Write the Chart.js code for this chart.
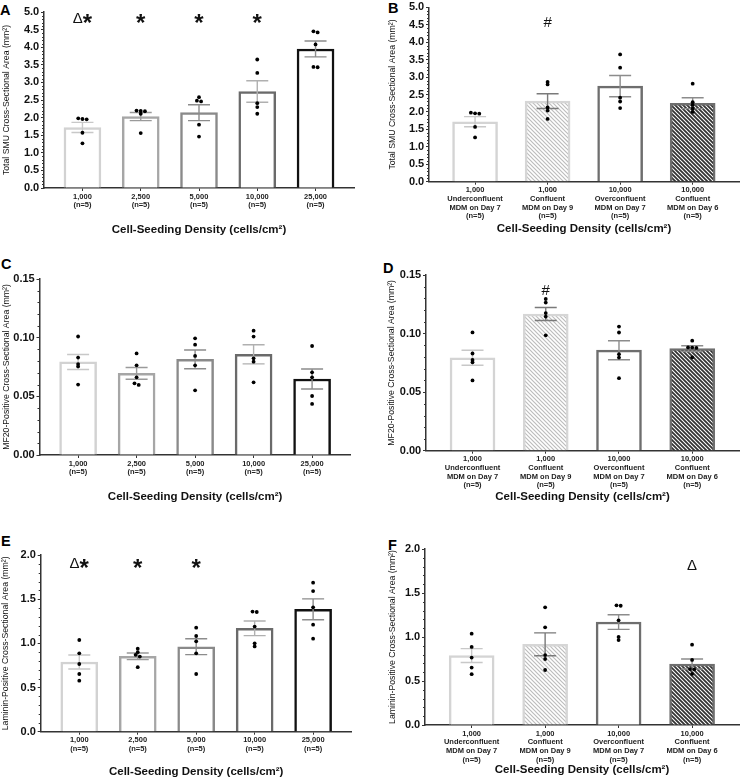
<!DOCTYPE html>
<html>
<head>
<meta charset="utf-8">
<script src="https://cdn.jsdelivr.net/npm/chart.js@4.4.1/dist/chart.umd.min.js"></script>
<style>
  body { margin: 0; background: #fff; width: 741px; height: 778px; position: relative; overflow: hidden; }
  canvas { position: absolute; }
  .tag { position: absolute; font: bold 14.5px 'Liberation Sans', Arial, sans-serif; line-height: 1; color: #000; }
</style>
</head>
<body>
<div class="tag" style="left:0px;top:3px">A</div>
<div class="tag" style="left:388px;top:1px">B</div>
<div class="tag" style="left:1px;top:257px">C</div>
<div class="tag" style="left:383px;top:261px">D</div>
<div class="tag" style="left:1px;top:534px">E</div>
<div class="tag" style="left:388px;top:538px">F</div>
<canvas id="chartA"></canvas>
<canvas id="chartB"></canvas>
<canvas id="chartC"></canvas>
<canvas id="chartD"></canvas>
<canvas id="chartE"></canvas>
<canvas id="chartF"></canvas>
<script>
const FONT = "'Liberation Sans', Arial, sans-serif";

// x categories
const densityLabels = [['1,000', '(n=5)'], ['2,500', '(n=5)'], ['5,000', '(n=5)'], ['10,000', '(n=5)'], ['25,000', '(n=5)']];
const mdmLabels = [
  ['1,000', 'Underconfluent', 'MDM on Day 7', '(n=5)'],
  ['1,000', 'Confluent', 'MDM on Day 9', '(n=5)'],
  ['10,000', 'Overconfluent', 'MDM on Day 7', '(n=5)'],
  ['10,000', 'Confluent', 'MDM on Day 6', '(n=5)']
];

// A - total SMU area vs density
const smuMean = [1.72, 2.03, 2.14, 2.74, 3.95];
const smuSem = [0.145, 0.115, 0.225, 0.305, 0.225];
const smuPts = [[1.98, 1.96, 1.95, 1.57, 1.27], [2.20, 2.19, 2.18, 2.11, 1.56], [2.58, 2.48, 2.46, 1.80, 1.46], [3.65, 3.27, 2.41, 2.30, 2.11], [4.45, 4.42, 4.08, 3.44, 3.43]];
const smuMarks = ['Δ*', '*', '*', '*', ''];

// B - total SMU area vs MDM confluence
const smuMdmMean = [1.72, 2.31, 2.74, 2.25];
const smuMdmSem = [0.145, 0.21, 0.305, 0.155];
const smuMdmPts = [[1.98, 1.96, 1.95, 1.57, 1.27], [2.86, 2.79, 2.13, 2.04, 1.80], [3.65, 3.27, 2.41, 2.30, 2.11], [2.81, 2.28, 2.20, 2.10, 2.00]];
const smuMdmMarks = ['', '#', '', ''];

// C - MF20 area vs density
const mf20Mean = [0.0793, 0.0696, 0.0815, 0.0858, 0.0648];
const mf20Sem = [0.0064, 0.0050, 0.0080, 0.0081, 0.0085];
const mf20Pts = [[0.101, 0.083, 0.0775, 0.0755, 0.060], [0.0866, 0.0764, 0.0662, 0.0611, 0.0597], [0.0994, 0.094, 0.0844, 0.0764, 0.0551], [0.106, 0.1009, 0.0824, 0.0795, 0.0619], [0.0929, 0.0705, 0.0662, 0.0503, 0.0435]];

// D - MF20 area vs MDM confluence
const mf20MdmMean = [0.0793, 0.1167, 0.0858, 0.0871];
const mf20MdmSem = [0.0064, 0.0056, 0.0081, 0.0025];
const mf20MdmPts = [[0.101, 0.083, 0.0775, 0.0755, 0.060], [0.1295, 0.1265, 0.1175, 0.1145, 0.0985], [0.106, 0.1009, 0.0824, 0.0795, 0.0619], [0.0939, 0.0882, 0.0880, 0.0877, 0.0797]];
const mf20MdmMarks = ['', '#', '', ''];

// E - laminin area vs density
const lamMean = [0.789, 0.853, 0.962, 1.17, 1.385];
const lamSem = [0.079, 0.037, 0.09, 0.083, 0.118];
const lamPts = [[1.038, 0.887, 0.766, 0.653, 0.577], [0.94, 0.90, 0.87, 0.85, 0.73], [1.177, 1.083, 1.023, 0.887, 0.653], [1.36, 1.355, 1.19, 1.00, 0.965], [1.687, 1.592, 1.408, 1.211, 1.053]];
const lamMarks = ['Δ*', '*', '*', '', ''];

// F - laminin area vs MDM confluence
const lamMdmMean = [0.789, 0.917, 1.17, 0.693];
const lamMdmSem = [0.079, 0.13, 0.083, 0.057];
const lamMdmPts = [[1.038, 0.887, 0.766, 0.653, 0.577], [1.337, 1.110, 0.795, 0.750, 0.625], [1.36, 1.355, 1.19, 1.00, 0.965], [0.913, 0.739, 0.636, 0.632, 0.58]];
const lamMdmMarks = ['', '', '', 'Δ'];

function hatch(bg, fg, lw) {
  const c = document.createElement('canvas');
  c.width = c.height = 4;
  const g = c.getContext('2d');
  g.fillStyle = bg;
  g.fillRect(0, 0, 4, 4);
  g.strokeStyle = fg;
  g.lineWidth = lw;
  g.beginPath();
  g.moveTo(-1, -1); g.lineTo(5, 5);
  g.moveTo(-1, 3); g.lineTo(1, 5);
  g.moveTo(3, -1); g.lineTo(5, 1);
  g.stroke();
  return g.createPattern(c, 'repeat');
}
const hatchLight = hatch('#fff', '#bdbdbd', 1.2);
const hatchDark = hatch('#fff', '#333', 1.8);

const leftStyle = {
  fills: ['#fff', '#fff', '#fff', '#fff', '#fff'],
  borders: ['#d2d2d2', '#a6a6a6', '#8a8a8a', '#6a6a6a', '#111'],
  errs: ['#c8c8c8', '#9a9a9a', '#8c8c8c', '#b0b0b0', '#8c8c8c'],
  xRange: [-0.66, 4.66], barW: 37
};
const rightStyle = {
  fills: ['#fff', hatchLight, '#fff', hatchDark],
  borders: ['#d4d4d4', '#d6d6d6', '#6e6e6e', '#6e6e6e'],
  errs: ['#c8c8c8', '#7a7a7a', '#8c8c8c', '#8c8c8c'],
  xRange: [-0.635, 3.64], barW: 45
};

const smuTitle = 'Total SMU Cross-Sectional Area (mm²)';
const mf20Title = 'MF20-Positive Cross-Sectional Area (mm²)';
const lamTitle = 'Laminin-Positive Cross-Sectional Area (mm²)';

const panels = [
  { id: 'chartA', labels: densityLabels, mean: smuMean, sem: smuSem, pts: smuPts, marks: smuMarks, markY: 4.83,
    yTitle: smuTitle, yMax: 5, major: 0.5, minor: 0.1, dec: 1, style: leftStyle,
    box: [0, 0, 370, 258], area: [44, 12, 354, 188], yTitleX: 7, xTitleY: 230 },
  { id: 'chartB', labels: mdmLabels, mean: smuMdmMean, sem: smuMdmSem, pts: smuMdmPts, marks: smuMdmMarks, markY: 4.59,
    yTitle: smuTitle, yMax: 5, major: 0.5, minor: 0.1, dec: 1, style: rightStyle,
    box: [370, 0, 371, 258], area: [429, 6, 740, 181.7], yTitleX: 393, xTitleY: 229.3 },
  { id: 'chartC', labels: densityLabels, mean: mf20Mean, sem: mf20Sem, pts: mf20Pts, marks: [], markY: 0,
    yTitle: mf20Title, yMax: 0.15, major: 0.05, minor: 0.01, dec: 2, style: leftStyle,
    box: [0, 258, 370, 260], area: [39.5, 279, 350.7, 455], yTitleX: 7, xTitleY: 496.7 },
  { id: 'chartD', labels: mdmLabels, mean: mf20MdmMean, sem: mf20MdmSem, pts: mf20MdmPts, marks: mf20MdmMarks, markY: 0.1378,
    yTitle: mf20Title, yMax: 0.15, major: 0.05, minor: 0.01, dec: 2, style: rightStyle,
    box: [370, 258, 371, 260], area: [426, 275, 740, 450.7], yTitleX: 391.7, xTitleY: 497.3 },
  { id: 'chartE', labels: densityLabels, mean: lamMean, sem: lamSem, pts: lamPts, marks: lamMarks, markY: 1.91,
    yTitle: lamTitle, yMax: 2, major: 0.5, minor: 0.1, dec: 1, style: leftStyle,
    box: [0, 518, 370, 260], area: [40.7, 555, 351.7, 731.7], yTitleX: 6, xTitleY: 771.5 },
  { id: 'chartF', labels: mdmLabels, mean: lamMdmMean, sem: lamMdmSem, pts: lamMdmPts, marks: lamMdmMarks, markY: 1.82,
    yTitle: lamTitle, yMax: 2, major: 0.5, minor: 0.1, dec: 1, style: rightStyle,
    box: [370, 518, 371, 260], area: [425, 549, 740, 725], yTitleX: 393, xTitleY: 770 }
];

// spread dots that would overlap sideways, like a small beeswarm
function spreadDots(pts, thr, step) {
  const out = [];
  pts.forEach((grp, i) => {
    const sorted = grp.slice().sort((a, b) => b - a);
    let cluster = [];
    const flush = () => {
      cluster.forEach((v, j) => out.push({ x: i + (j - (cluster.length - 1) / 2) * step, y: v }));
      cluster = [];
    };
    sorted.forEach(v => {
      if (cluster.length && cluster[cluster.length - 1] - v >= thr) flush();
      cluster.push(v);
    });
    flush();
  });
  return out;
}

function drawMark(ctx, text, cx, cy) {
  const parts = [...text].map(ch => {
    if (ch === '*') return { ch, font: 'bold 24px ' + FONT, dy: 0.56 * 24 };
    if (ch === '#') return { ch, font: '15px ' + FONT, dy: 0.35 * 15 };
    return { ch, font: '15px ' + FONT, dy: 0.36 * 15 };
  });
  let total = 0;
  parts.forEach(p => { ctx.font = p.font; p.w = ctx.measureText(p.ch).width; total += p.w; });
  let x = cx - total / 2;
  ctx.textAlign = 'left';
  ctx.textBaseline = 'alphabetic';
  ctx.fillStyle = '#111';
  parts.forEach(p => { ctx.font = p.font; ctx.fillText(p.ch, x, cy + p.dy); x += p.w; });
}

function build(p) {
  const canvas = document.getElementById(p.id);
  const [x0, y0, w, h] = p.box;
  const [L, T, R, B] = p.area;
  canvas.width = w;
  canvas.height = h;
  canvas.style.left = x0 + 'px';
  canvas.style.top = y0 + 'px';
  const st = p.style;

  const yTitleLH = 8.7 * 1.2;
  const xTitleLH = 11.5;
  const xAxisBottom = p.xTitleY - y0 + xTitleLH / 2;
  const pxPerX = (R - L) / (st.xRange[1] - st.xRange[0]);
  const dots = spreadDots(p.pts, 2.2 * p.yMax / (B - T), 4.2 / pxPerX);

  const extras = {
    id: 'extras' + p.id,
    afterDatasetDraw(chart, args) {
      if (args.meta.type !== 'bar') return;
      const { ctx, scales: { x, y } } = chart;
      ctx.save();
      ctx.lineWidth = 1.4;
      p.mean.forEach((m, i) => {
        const cx = x.getPixelForValue(i);
        const top = y.getPixelForValue(m + p.sem[i]);
        const bot = y.getPixelForValue(m - p.sem[i]);
        ctx.strokeStyle = st.errs[i];
        ctx.beginPath();
        ctx.moveTo(cx, top); ctx.lineTo(cx, bot);
        ctx.moveTo(cx - 11, top); ctx.lineTo(cx + 11, top);
        ctx.moveTo(cx - 11, bot); ctx.lineTo(cx + 11, bot);
        ctx.stroke();
      });
      ctx.restore();
    },
    afterDraw(chart) {
      const { ctx, scales: { x, y }, chartArea } = chart;
      ctx.save();
      // minor ticks on the value axis
      ctx.strokeStyle = '#333';
      ctx.lineWidth = 1;
      const n = Math.round(p.yMax / p.minor);
      const per = Math.round(p.major / p.minor);
      ctx.beginPath();
      for (let k = 1; k < n; k++) {
        if (k % per === 0) continue;
        const py = Math.round(y.getPixelForValue(k * p.minor)) + 0.5;
        ctx.moveTo(chartArea.left - 2, py);
        ctx.lineTo(chartArea.left, py);
      }
      ctx.stroke();
      p.marks.forEach((m, i) => {
        if (m) drawMark(ctx, m, x.getPixelForValue(i), y.getPixelForValue(p.markY));
      });
      ctx.restore();
    }
  };

  return new Chart(canvas.getContext('2d'), {
    type: 'bar',
    data: {
      datasets: [
        {
          type: 'scatter',
          data: dots,
          pointRadius: 1.9,
          pointHoverRadius: 1.9,
          pointBorderWidth: 0,
          pointBackgroundColor: '#000',
          backgroundColor: '#000',
          order: 1
        },
        {
          type: 'bar',
          data: p.mean.map((v, i) => ({ x: i, y: v })),
          backgroundColor: st.fills,
          borderColor: st.borders,
          borderWidth: 2.5,
          barThickness: st.barW,
          order: 2
        }
      ]
    },
    options: {
      responsive: false,
      animation: false,
      events: [],
      layout: { padding: { left: 0, top: T - y0, right: x0 + w - R, bottom: h - xAxisBottom } },
      plugins: { legend: { display: false }, tooltip: { enabled: false } },
      scales: {
        x: {
          type: 'linear',
          bounds: 'data',
          offset: false,
          min: st.xRange[0],
          max: st.xRange[1],
          afterBuildTicks: s => { s.ticks = p.labels.map((_, i) => ({ value: i })); },
          afterFit: s => { s.height = xAxisBottom - (B - y0); },
          ticks: {
            callback: (v, i) => p.labels[i],
            autoSkip: false,
            maxRotation: 0,
            padding: 1.2,
            color: '#222',
            font: { family: FONT, size: 7.5, weight: 'bold', lineHeight: 1.16 }
          },
          grid: { drawOnChartArea: false, offset: false, tickLength: 3, tickColor: '#333', tickWidth: 1 },
          border: { color: '#333', width: 1.5 },
          title: {
            display: true,
            text: 'Cell-Seeding Density (cells/cm²)',
            color: '#111',
            padding: 0,
            font: { family: FONT, size: 11.5, weight: 'bold', lineHeight: 1 }
          }
        },
        y: {
          min: 0,
          max: p.yMax,
          afterFit: s => { s.width = L - x0; },
          ticks: {
            stepSize: p.major,
            padding: 1.8,
            color: '#111',
            callback: v => v.toFixed(p.dec),
            font: { family: FONT, size: 11, weight: 'bold', lineHeight: 1 }
          },
          grid: { drawOnChartArea: false, tickLength: 3, tickColor: '#333', tickWidth: 1 },
          border: { color: '#333', width: 1.5 },
          title: {
            display: true,
            text: p.yTitle,
            color: '#111',
            padding: { top: p.yTitleX - x0 - yTitleLH / 2, bottom: 0 },
            font: { family: FONT, size: 8.7, lineHeight: 1.2 }
          }
        }
      }
    },
    plugins: [extras]
  });
}

panels.forEach(build);
</script>
</body>
</html>
